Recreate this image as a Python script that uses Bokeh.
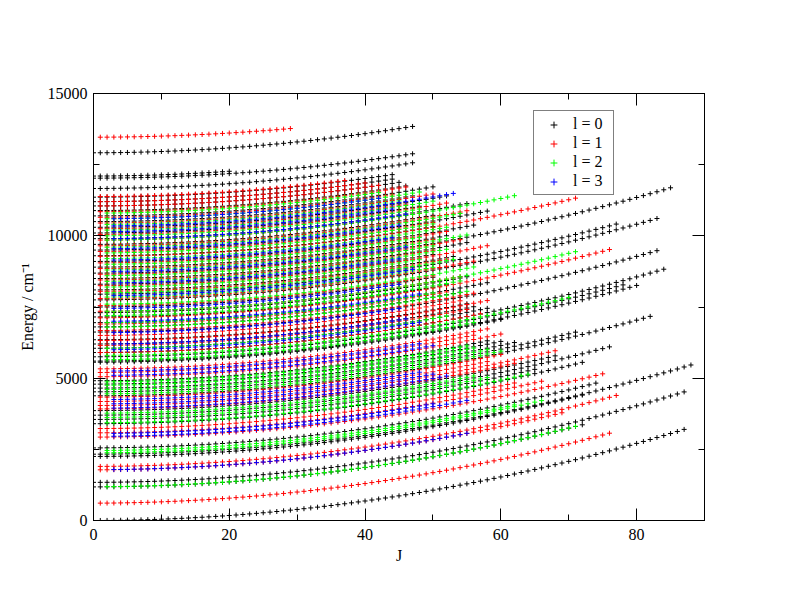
from bokeh.plotting import figure
from bokeh.models import (Range1d, SingleIntervalTicker, LinearAxis, Legend,
                          LegendItem, ColumnDataSource)
from bokeh.embed import file_html
from bokeh.resources import INLINE

# ---------------- data ----------------
# each band: (energy at lowest J [cm-1], last J shown, effective rotational constant)
bands_l0 = [
    (0, 87, 0.418), (1180, 72, 0.415), (1340, 87, 0.415),
    (2250, 72, 0.41), (2330, 88, 0.40), (2550, 74, 0.41),
    (3400, 72, 0.41), (3550, 65, 0.41), (3700, 76, 0.41), (3860, 68, 0.41),
    (4380, 82, 0.41), (4520, 71, 0.41), (4650, 62, 0.41), (4790, 60, 0.41), (4910, 58, 0.41),
    (5560, 60, 0.41), (5600, 80, 0.41), (5750, 78, 0.41), (5900, 84, 0.41),
    (6050, 58, 0.41), (6200, 56, 0.41), (6350, 55, 0.41), (6620, 83, 0.41),
    (6800, 54, 0.41), (6950, 58, 0.41), (7150, 52, 0.41), (7300, 55, 0.41),
    (7500, 50, 0.41), (7750, 83, 0.41), (7950, 77, 0.41), (8100, 53, 0.41),
    (8300, 50, 0.41), (8500, 55, 0.41), (8690, 85, 0.41), (8900, 52, 0.40),
    (9100, 56, 0.40), (9300, 50, 0.40), (9500, 58, 0.40), (9700, 50, 0.40),
    (9900, 55, 0.40), (10100, 48, 0.40), (10300, 52, 0.40), (10500, 47, 0.40),
    (10700, 50, 0.40), (10887, 46, 0.40), (11050, 45, 0.40), (11200, 44, 0.40),
    (11358, 44, 0.40), (11663, 47, 0.40), (12025, 47, 0.38), (12100, 20, 0.40),
    (12917, 47, 0.41),
]
bands_l1 = [
    (610, 76, 0.42), (1780, 69, 0.415), (1900, 77, 0.415),
    (2930, 75, 0.39), (3080, 66, 0.41), (3230, 62, 0.41),
    (3920, 62, 0.41), (4040, 68, 0.41), (4180, 58, 0.41), (4333, 60, 0.41),
    (5050, 60, 0.41), (5200, 56, 0.41), (5328, 58, 0.41),
    (5900, 57, 0.41), (6150, 55, 0.41), (6323, 58, 0.41), (6500, 54, 0.41),
    (6674, 56, 0.41), (6900, 52, 0.41), (7120, 76, 0.41), (7350, 54, 0.41),
    (7550, 50, 0.41), (7800, 56, 0.41), (8050, 52, 0.41), (8250, 58, 0.41),
    (8450, 50, 0.41), (8650, 54, 0.41), (8850, 50, 0.40), (9050, 52, 0.40),
    (9280, 71, 0.40), (9450, 50, 0.40), (9650, 55, 0.40), (9850, 48, 0.40),
    (10050, 52, 0.40), (10250, 46, 0.40), (10450, 50, 0.40), (10650, 44, 0.40),
    (10850, 46, 0.40), (11050, 42, 0.40), (11200, 40, 0.40), (11380, 37, 0.40),
    (13465, 29, 0.35),
]
bands_l2 = [
    (1190, 71, 0.415), (2380, 66, 0.415), (2460, 62, 0.41),
    (3435, 64, 0.41), (3620, 58, 0.41), (3770, 56, 0.41),
    (4450, 60, 0.41), (4600, 58, 0.41), (4750, 56, 0.41), (4870, 55, 0.41),
    (5650, 56, 0.41), (5800, 70, 0.41), (6050, 52, 0.41), (6790, 55, 0.41),
    (6950, 50, 0.41), (7200, 54, 0.41), (7350, 71, 0.41), (7600, 56, 0.41),
    (7850, 50, 0.41), (8000, 53, 0.41), (8200, 48, 0.41), (8400, 52, 0.41),
    (8600, 50, 0.41), (8800, 55, 0.40), (9000, 48, 0.40), (9200, 52, 0.40),
    (9400, 50, 0.40), (9600, 54, 0.40), (9850, 62, 0.40), (10000, 48, 0.40),
    (10200, 50, 0.40), (10400, 45, 0.40), (10600, 48, 0.40), (10800, 42, 0.40),
]
bands_l3 = [
    (1790, 55, 0.415), (2960, 55, 0.41), (3060, 50, 0.41),
    (3950, 52, 0.41), (4100, 50, 0.41), (4250, 48, 0.41),
    (5100, 50, 0.41), (5250, 48, 0.41), (6000, 48, 0.41), (6200, 46, 0.41),
    (6600, 45, 0.41), (7000, 48, 0.41), (7450, 45, 0.41), (7900, 47, 0.41),
    (8350, 45, 0.41), (8750, 46, 0.40), (9150, 44, 0.40), (9550, 45, 0.40),
    (9900, 46, 0.40), (10150, 44, 0.40), (10350, 53, 0.40), (10600, 42, 0.40),
]
series_l = [0, 1, 2, 3]
series_labels = ["l = 0", "l = 1", "l = 2", "l = 3"]
series_colors = ["#000000", "#ff0000", "#00ff00", "#0000ff"]
x_ticks = [0, 20, 40, 60, 80]
y_ticks = [0, 5000, 10000, 15000]


def band_points(bands, l):
    xs, ys = [], []
    for e0, jmax, b in bands:
        for j in range(l, jmax + 1):
            xs.append(j)
            ys.append(e0 + b * (j * (j + 1) - l * (l + 1)))
    return xs, ys


FONT = "Liberation Serif"

p = figure(width=784, height=604, output_backend="svg", toolbar_location=None,
           x_range=Range1d(0, 90), y_range=Range1d(0, 15000),
           min_border_left=93, min_border_right=80,
           min_border_top=93, min_border_bottom=84)
p.grid.visible = False
p.outline_line_color = "black"
p.outline_line_width = 1
p.background_fill_color = "white"
p.border_fill_color = "white"

xt = SingleIntervalTicker(interval=20, num_minor_ticks=2)
yt = SingleIntervalTicker(interval=5000, num_minor_ticks=2)


def style_axis(ax, ticker, show_labels):
    ax.ticker = ticker
    ax.major_tick_in = 12
    ax.major_tick_out = 0
    ax.minor_tick_in = 6
    ax.minor_tick_out = 0
    ax.axis_line_color = "black"
    ax.major_tick_line_color = "black"
    ax.minor_tick_line_color = "black"
    if show_labels:
        ax.major_label_text_font = FONT
        ax.major_label_text_font_size = "16px"
        ax.major_label_text_color = "black"
        ax.axis_label_text_font = FONT
        ax.axis_label_text_font_size = "16px"
        ax.axis_label_text_font_style = "normal"
        ax.axis_label_text_color = "black"
    else:
        ax.major_label_text_color = None
        ax.major_label_standoff = 0


xa = p.xaxis[0]
ya = p.yaxis[0]
style_axis(xa, xt, True)
style_axis(ya, yt, True)
xa.axis_label = "J"
ya.axis_label = "Energy / cm\u207b\u00b9"
xa.major_label_standoff = 8
xa.axis_label_standoff = 4
ya.major_label_standoff = 6
ya.axis_label_standoff = 9
ya.major_label_orientation = "horizontal"

ra = LinearAxis()
style_axis(ra, yt, False)
p.add_layout(ra, "right")
ta = LinearAxis()
style_axis(ta, xt, False)
p.add_layout(ta, "above")

all_bands = [bands_l0, bands_l1, bands_l2, bands_l3]
items = []
for bands, l, lab, col in zip(all_bands, series_l, series_labels, series_colors):
    xs, ys = band_points(bands, l)
    src = ColumnDataSource(dict(J=xs, E=ys))
    r = p.scatter("J", "E", source=src, marker="cross", size=5,
                  line_color=col, line_width=1)
    items.append(LegendItem(label=lab, renderers=[r]))

legend = Legend(items=items, location=(440, 325))
legend.label_text_font = FONT
legend.label_text_font_size = "16px"
legend.label_text_color = "black"
legend.glyph_width = 31
legend.glyph_height = 17
legend.label_height = 17
legend.label_width = 36
legend.spacing = 1
legend.padding = 4
legend.margin = 0
legend.label_standoff = 4
legend.border_line_color = "black"
legend.border_line_width = 1
legend.background_fill_color = "white"
legend.background_fill_alpha = 1.0
p.add_layout(legend)

open("out.html", "w").write(file_html(p, INLINE))
